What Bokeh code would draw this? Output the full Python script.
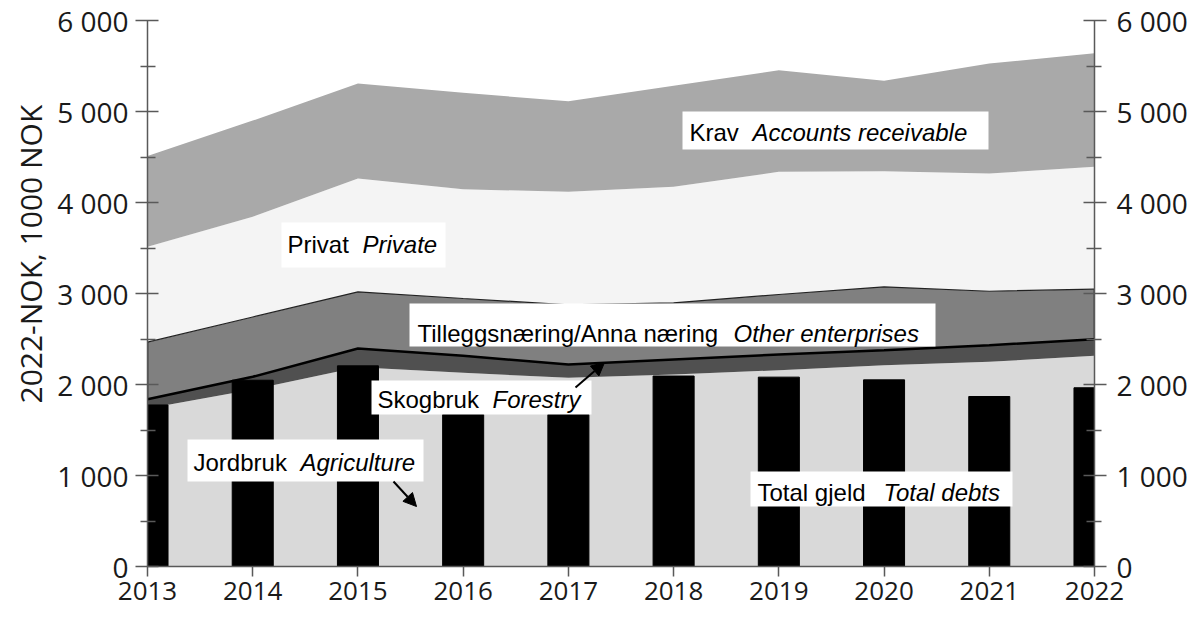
import numpy as np
from bokeh.plotting import figure
from bokeh.models import ColumnDataSource, LinearAxis, FixedTicker, Range1d, Arrow, NormalHead, Title
from bokeh.core.properties import value
from bokeh.embed import file_html
from bokeh.resources import INLINE

# ---------------- data (2022-NOK, 1000 NOK) ----------------
years = [2013, 2014, 2015, 2016, 2017, 2018, 2019, 2020, 2021, 2022]
jordbruk = [1735, 1945, 2190, 2128, 2073, 2110, 2157, 2212, 2249, 2315]
skogbruk = [103, 140, 206, 187, 147, 165, 173, 165, 183, 183]
tilleggsnaering = [627, 657, 622, 630, 655, 622, 659, 696, 593, 549]
privat = [1048, 1101, 1246, 1201, 1242, 1275, 1348, 1271, 1294, 1345]
krav = [997, 1057, 1044, 1059, 996, 1110, 1117, 993, 1208, 1248]
total_gjeld = [1775, 2047, 2205, 1670, 1670, 2093, 2081, 2051, 1868, 1964]

y_ticks = [0, 1000, 2000, 3000, 4000, 5000, 6000]
y_tick_labels = ["0", "1 000", "2 000", "3 000", "4 000", "5 000", "6 000"]
x_tick_labels = [str(y) for y in years]

series_names = ["jordbruk", "skogbruk", "tilleggsnaering", "privat", "krav"]
series_colors = ["#d9d9d9", "#505050", "#808080", "#f4f4f4", "#a9a9a9"]

# ---------------- geometry helpers (page px -> data) ----------------
X0_PX, X_STEP_PX = 147.0, (1094.0 - 147.0) / 9.0
Y0_PX, Y_PER_UNIT = 568.0, 546.0 / 6000.0


def dx(px):
    return 2013 + (px - X0_PX) / X_STEP_PX


def dy(py):
    return (Y0_PX - py) / Y_PER_UNIT


TICK_FONT = "Open Sans"
LABEL_FONT = "Liberation Sans"
TICK_SIZE = "28px"
X_TICK_SIZE = "26px"
LABEL_SIZE = "24px"

p = figure(frame_width=947, frame_height=546, min_border_left=147, min_border_right=92,
           min_border_top=20, min_border_bottom=50,
           x_range=Range1d(2013, 2022), y_range=Range1d(0, 6000),
           output_backend="svg", toolbar_location=None, tools="")
p.outline_line_color = None
p.xgrid.visible = False
p.ygrid.visible = False
p.background_fill_color = "white"
p.border_fill_color = "white"

src = ColumnDataSource(dict(years=years, jordbruk=jordbruk, skogbruk=skogbruk,
                            tilleggsnaering=tilleggsnaering, privat=privat, krav=krav,
                            total_gjeld=total_gjeld))
p.varea_stack(stackers=series_names, x="years", color=series_colors, source=src)

# outlines of "other enterprises" band
cum = np.cumsum(np.array([jordbruk, skogbruk, tilleggsnaering], dtype=float), axis=0)
skog_top = cum[1]
till_top = cum[2]
p.line(years, till_top, line_color="#222222", line_width=1.2)
p.segment(x0=[years[0], years[-1]], y0=[skog_top[0], skog_top[-1]],
          x1=[years[0], years[-1]], y1=[till_top[0], till_top[-1]],
          line_color="black", line_width=1.5)

# total debts bars
p.vbar(x="years", top="total_gjeld", width=0.39, color="black", source=src)

p.line(years, skog_top, line_color="black", line_width=2.5)

# ---------------- axes ----------------
AX_COLOR = "#595959"
TXT_COLOR = "#1a1a1a"


def style_y(ax):
    ax.ticker = FixedTicker(ticks=y_ticks, minor_ticks=list(range(500, 6000, 1000)))
    ax.major_label_overrides = dict(zip(y_ticks, y_tick_labels))
    ax.axis_line_color = AX_COLOR
    ax.axis_line_width = 1.5
    ax.major_tick_line_color = AX_COLOR
    ax.major_tick_line_width = 1.5
    ax.minor_tick_line_color = AX_COLOR
    ax.minor_tick_line_width = 1.5
    ax.major_tick_out = 12
    ax.major_tick_in = 11
    ax.minor_tick_out = 7
    ax.minor_tick_in = 8
    ax.major_label_text_font = TICK_FONT
    ax.major_label_text_font_size = TICK_SIZE
    ax.major_label_text_color = TXT_COLOR
    ax.major_label_standoff = 7


yl = p.yaxis[0]
style_y(yl)

yr = LinearAxis()
style_y(yr)
yr.major_label_standoff = 10
p.add_layout(yr, "right")

xa = p.xaxis[0]
xa.ticker = FixedTicker(ticks=years)
xa.major_label_overrides = dict(zip(years, x_tick_labels))
xa.minor_tick_line_color = None
xa.axis_line_color = AX_COLOR
xa.axis_line_width = 1.5
xa.major_tick_line_color = AX_COLOR
xa.major_tick_line_width = 1.5
xa.major_tick_out = 10
xa.major_tick_in = 0
xa.major_label_text_font = TICK_FONT
xa.major_label_text_font_size = X_TICK_SIZE
xa.major_label_text_color = TXT_COLOR
xa.major_label_standoff = 5

# y-axis title (placed off-centre, as in the original)
p.add_layout(Title(text="2022-NOK, 1000 NOK", align="left", offset=163, standoff=8,
                   text_font=TICK_FONT, text_font_size="30px", text_font_style="normal",
                   text_color=TXT_COLOR), "left")

# ---------------- series labels (boxes in page px) ----------------
# (box left, box right, box top, box bottom, text x, italic x, baseline y, normal, italic)
BASE_SHIFT = 6
labels = [
    (281, 445, 224, 269, 287, 362, 251.5, "Privat", "Private"),
    (409, 935, 305, 348, 417, 733, 340.5, "Tilleggsnæring/Anna næring", "Other enterprises"),
    (682, 988, 113, 151, 689, 752, 140, "Krav", "Accounts receivable"),
    (371, 591, 382, 416, 377, 492, 406.5, "Skogbruk", "Forestry"),
    (187, 423, 441, 483, 193, 300, 469.5, "Jordbruk", "Agriculture"),
    (750, 1012, 473, 508, 757, 883, 499.5, "Total gjeld", "Total debts"),
]
for bl, br, bt, bb, tx, ix, by, t_norm, t_it in labels:
    p.quad(left=[dx(bl)], right=[dx(br)], top=[dy(bt)], bottom=[dy(bb)],
           fill_color="white", line_color=None)
    p.text(x=[dx(tx)], y=[dy(by - BASE_SHIFT)], text=[t_norm], text_font=value(LABEL_FONT),
           text_font_size=LABEL_SIZE, text_baseline="alphabetic", text_align="left", text_color="black")
    p.text(x=[dx(ix)], y=[dy(by - BASE_SHIFT)], text=[t_it], text_font=value(LABEL_FONT),
           text_font_style="italic", text_font_size=LABEL_SIZE, text_baseline="alphabetic",
           text_align="left", text_color="black")

# ---------------- arrows ----------------
arrows = [((393, 483), (416, 508)), ((575, 389), (604, 364))]
for (sx, sy), (ex, ey) in arrows:
    p.add_layout(Arrow(end=NormalHead(size=13, fill_color="black", line_color="black"),
                       x_start=dx(sx), y_start=dy(sy), x_end=dx(ex), y_end=dy(ey),
                       line_color="black", line_width=2))

open("out.html", "w").write(file_html(p, INLINE))
